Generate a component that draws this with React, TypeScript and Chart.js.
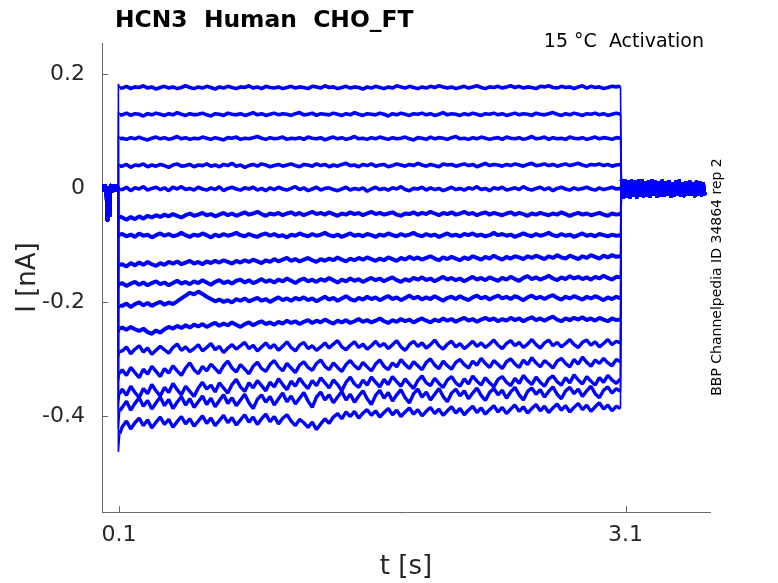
import { useEffect, useRef } from "react";
import { Chart, registerables } from "chart.js";

Chart.register(...registerables);

// ---- data ----
const titleText = "HCN3  Human  CHO_FT";
const conditionText = "15 °C  Activation";
const idText = "BBP Channelpedia ID 34864 rep 2";

const xTicks = [0.1, 3.1];
const yTicks = [-0.4, -0.2, 0, 0.2];

const stepOn = 0.097;
const stepSettle = 0.105;
const stepOff = 3.07;

// holding current before the step (nA), 5 ms apart from t = 0
const preTimes = Array.from({ length: 20 }, (_, k) => +(k * 0.005).toFixed(3));
const preValues = [
  0.005, -0.006, 0.006, -0.005, 0.006, -0.006, -0.056, 0.004, -0.006, -0.05,
  0.005, 0.006, -0.005, 0.006, -0.006, 0.005, -0.006, 0.006, -0.005, 0.004,
];

// capacitive transient at step onset, then first settled sample (nA)
const onsetPeak = [
  0.183, 0.134, 0.092, 0.044, 0.003, -0.05, -0.086, -0.138, -0.174, -0.212,
  -0.254, -0.296, -0.338, -0.378, -0.42, -0.462,
];
const onsetSettle = [
  0.176, 0.129, 0.087, 0.039, -0.002, -0.049, -0.081, -0.134, -0.168, -0.206,
  -0.246, -0.286, -0.324, -0.36, -0.39, -0.43,
];

// samples during the step: 0.12 .. 3.07 s every 25 ms
const stepTimes = Array.from({ length: 119 }, (_, k) => +(0.12 + 0.025 * k).toFixed(3));

// step currents in pA
const trace1 = [
  176, 179, 175, 178, 177, 180, 176, 178, 174, 177,
  179, 176, 178, 175, 177, 180, 177, 175, 178, 176,
  179, 177, 174, 178, 176, 179, 177, 175, 178, 177,
  180, 176, 178, 175, 179, 177, 176, 178, 175, 177,
  179, 176, 178, 177, 175, 179, 178, 176, 180, 177,
  178, 175, 177, 179, 176, 178, 177, 174, 178, 176,
  179, 177, 175, 178, 176, 180, 178, 176, 179, 177,
  175, 178, 176, 179, 177, 180, 178, 176, 178, 175,
  177, 179, 176, 178, 180, 177, 175, 178, 177, 179,
  176, 178, 180, 177, 179, 176, 178, 177, 175, 179,
  178, 180, 177, 176, 179, 177, 178, 175, 178, 180,
  176, 179, 177, 178, 175, 177, 179, 178, 179,
];
const trace2 = [
  129, 132, 128, 131, 130, 127, 131, 129, 132, 130,
  128, 131, 129, 133, 130, 128, 131, 129, 130, 132,
  129, 127, 131, 130, 128, 132, 130, 129, 131, 128,
  130, 133, 129, 131, 128, 130, 132, 129, 131, 130,
  128, 131, 133, 129, 130, 132, 128, 131, 130, 129,
  132, 130, 128, 131, 129, 133, 130, 128, 131, 130,
  129, 132, 130, 127, 131, 129, 132, 130, 128, 131,
  130, 132, 129, 131, 128, 130, 133, 129, 131, 130,
  128, 131, 129, 132, 130, 128, 131, 130, 132, 129,
  131, 128, 130, 132, 129, 131, 130, 128, 132, 130,
  129, 131, 133, 130, 128, 131, 129, 132, 130, 128,
  131, 130, 132, 129, 131, 128, 130, 132, 130,
];
const trace3 = [
  88, 86, 89, 87, 90, 87, 85, 88, 90, 87,
  89, 86, 88, 91, 87, 89, 86, 88, 87, 90,
  88, 86, 89, 87, 85, 89, 88, 90, 86, 88,
  87, 89, 91, 88, 86, 89, 87, 88, 90, 86,
  88, 87, 89, 86, 90, 88, 87, 89, 85, 88,
  90, 87, 89, 86, 88, 91, 87, 88, 86, 89,
  87, 90, 88, 86, 89, 87, 88, 90, 87, 85,
  89, 88, 86, 90, 87, 89, 88, 86, 89, 91,
  87, 88, 86, 89, 87, 90, 88, 86, 88, 89,
  86, 90, 88, 87, 89, 86, 88, 91, 87, 88,
  90, 86, 89, 87, 88, 86, 90, 88, 87, 89,
  86, 88, 90, 87, 89, 88, 86, 89, 88,
];
const trace4 = [
  39, 42, 37, 41, 40, 43, 38, 41, 39, 42,
  40, 37, 41, 43, 39, 40, 42, 38, 41, 40,
  43, 39, 41, 38, 42, 40, 44, 39, 41, 37,
  40, 42, 39, 43, 41, 38, 40, 42, 39, 41,
  43, 40, 38, 42, 41, 39, 43, 40, 42, 38,
  41, 39, 42, 44, 40, 41, 38, 42, 40, 43,
  39, 41, 42, 38, 40, 43, 41, 39, 42, 40,
  44, 41, 39, 42, 40, 38, 43, 41, 42, 39,
  41, 43, 40, 42, 38, 41, 44, 40, 42, 41,
  39, 42, 40, 43, 41, 39, 42, 44, 40, 41,
  43, 40, 42, 39, 41, 43, 40, 42, 44, 41,
  39, 42, 41, 43, 40, 42, 39, 41, 42,
];
const trace5 = [
  -2, 2, -4, 1, -1, 3, -3, 0, 2, -2,
  1, -4, 2, -1, 3, -2, 0, -3, 2, -1,
  -3, 1, -2, 3, -4, 0, 2, -1, -3, 1,
  -1, 2, -3, 0, -4, 1, -2, 2, -1, -3,
  0, 3, -2, 1, -4, -1, 2, -3, 0, 1,
  -2, -4, -1, 2, -3, 0, -2, 1, -5, -1,
  2, -2, 0, -3, 1, -1, 3, -2, -4, 0,
  -1, 2, -3, 1, -2, 0, -4, -1, 2, -2,
  0, -3, 1, -1, 3, -2, 0, -4, 1, -1,
  2, -3, -1, 1, -2, 3, -1, -3, 0, 2,
  -2, 1, -4, 0, 2, -1, -3, 1, -2, 0,
  2, -1, -3, 1, -2, 0, 2, -1, 0,
];
const trace6 = [
  -51, -55, -50, -54, -49, -53, -48, -51, -47, -50,
  -46, -49, -45, -48, -51, -47, -44, -48, -46, -43,
  -47, -45, -49, -46, -43, -47, -44, -48, -45, -42,
  -46, -44, -41, -45, -48, -44, -46, -43, -47, -44,
  -42, -46, -43, -47, -44, -41, -45, -43, -46, -42,
  -45, -48, -44, -46, -42, -45, -43, -47, -44, -41,
  -45, -43, -46, -44, -42, -46, -48, -44, -45, -42,
  -46, -43, -45, -41, -44, -47, -43, -45, -42, -46,
  -44, -41, -45, -43, -47, -44, -42, -46, -43, -45,
  -47, -44, -42, -46, -43, -45, -48, -44, -46, -43,
  -45, -47, -44, -46, -42, -45, -48, -45, -43, -46,
  -44, -47, -45, -43, -46, -48, -44, -46, -45,
];
const trace7 = [
  -80, -84, -81, -85, -79, -83, -81, -86, -82, -79,
  -83, -80, -84, -82, -78, -82, -85, -81, -83, -79,
  -82, -86, -81, -84, -80, -83, -81, -78, -82, -84,
  -80, -83, -85, -81, -79, -83, -80, -84, -82, -86,
  -81, -83, -79, -82, -84, -80, -83, -81, -78, -82,
  -84, -81, -85, -82, -79, -83, -81, -84, -80, -82,
  -85, -81, -83, -79, -82, -84, -80, -83, -81, -78,
  -82, -84, -80, -83, -81, -85, -82, -79, -83, -81,
  -84, -80, -82, -79, -83, -81, -84, -82, -78, -82,
  -80, -83, -81, -85, -82, -79, -82, -84, -80, -83,
  -81, -78, -82, -84, -80, -83, -81, -85, -82, -79,
  -83, -81, -84, -80, -82, -84, -81, -83, -82,
];
const trace8 = [
  -133, -137, -131, -135, -130, -134, -129, -133, -136, -131,
  -134, -129, -132, -128, -133, -130, -127, -132, -129, -133,
  -128, -131, -127, -130, -126, -129, -132, -127, -130, -126,
  -129, -125, -128, -131, -126, -129, -124, -128, -125, -122,
  -127, -124, -128, -125, -122, -126, -129, -124, -127, -123,
  -126, -121, -125, -128, -123, -126, -122, -125, -121, -124,
  -127, -123, -126, -121, -124, -127, -122, -125, -120, -124,
  -121, -125, -122, -119, -123, -126, -121, -124, -120, -123,
  -126, -121, -124, -119, -122, -125, -120, -123, -118, -122,
  -125, -120, -123, -119, -121, -124, -119, -122, -118, -121,
  -124, -119, -122, -117, -121, -123, -118, -121, -124, -119,
  -122, -117, -120, -123, -118, -121, -117, -120, -119,
];
const trace9 = [
  -166, -171, -167, -164, -169, -165, -170, -166, -163, -168,
  -165, -170, -166, -162, -167, -164, -168, -163, -166, -161,
  -165, -169, -164, -161, -166, -163, -167, -162, -160, -165,
  -161, -166, -163, -159, -164, -161, -165, -160, -163, -158,
  -162, -166, -161, -158, -163, -160, -164, -159, -162, -157,
  -161, -165, -160, -163, -158, -162, -159, -164, -160, -157,
  -161, -158, -163, -159, -156, -161, -164, -159, -162, -157,
  -160, -156, -161, -158, -163, -159, -155, -160, -157, -161,
  -158, -163, -159, -155, -160, -157, -161, -156, -159, -162,
  -157, -160, -155, -159, -162, -157, -154, -159, -156, -160,
  -157, -153, -158, -161, -156, -159, -154, -158, -155, -159,
  -156, -160, -155, -158, -153, -157, -160, -155, -156,
];
const trace10 = [
  -206, -202, -208, -203, -200, -205, -201, -206, -202, -199,
  -204, -200, -203, -198, -193, -188, -183, -186, -181, -185,
  -190, -194, -198, -195, -199, -196, -200, -194, -197, -193,
  -198, -195, -192, -197, -194, -199, -195, -191, -196, -193,
  -197, -192, -195, -191, -196, -193, -198, -194, -190, -195,
  -192, -197, -193, -189, -194, -197, -192, -195, -190, -194,
  -191, -196, -192, -189, -194, -191, -196, -192, -188, -193,
  -190, -195, -191, -194, -189, -193, -197, -192, -190, -194,
  -189, -193, -196, -191, -188, -193, -190, -195, -191, -188,
  -193, -190, -194, -189, -192, -196, -191, -188, -193, -190,
  -194, -190, -187, -192, -195, -190, -193, -189, -192, -195,
  -190, -193, -189, -192, -196, -191, -194, -190, -193,
];
const trace11 = [
  -244, -248, -243, -247, -250, -246, -252, -255, -249, -253,
  -247, -243, -246, -241, -245, -240, -244, -239, -242, -238,
  -243, -239, -236, -241, -237, -240, -235, -239, -243, -238,
  -235, -240, -236, -233, -238, -235, -239, -234, -237, -232,
  -236, -233, -238, -234, -231, -236, -232, -235, -230, -234,
  -237, -232, -235, -231, -236, -233, -229, -234, -231, -235,
  -232, -228, -233, -236, -231, -234, -229, -233, -230, -235,
  -231, -228, -232, -235, -230, -233, -228, -232, -229, -234,
  -230, -227, -232, -229, -234, -230, -227, -231, -228, -233,
  -229, -232, -227, -231, -228, -233, -229, -226, -231, -228,
  -232, -228, -225, -230, -233, -228, -231, -227, -230, -226,
  -231, -228, -232, -227, -230, -233, -228, -231, -230,
];
const trace12 = [
  -285, -278, -290, -282, -276, -287, -280, -291, -284, -277,
  -283, -289, -279, -273, -284, -278, -286, -281, -274, -285,
  -279, -272, -283, -277, -288, -280, -274, -282, -276, -270,
  -281, -275, -285, -278, -271, -280, -274, -284, -277, -269,
  -279, -285, -275, -270, -281, -276, -284, -278, -271, -280,
  -273, -267, -278, -283, -275, -269, -279, -273, -282, -276,
  -268, -277, -272, -281, -274, -267, -278, -284, -274, -268,
  -277, -271, -280, -274, -266, -276, -282, -273, -268, -278,
  -272, -281, -275, -268, -277, -271, -279, -273, -266, -275,
  -281, -272, -267, -276, -270, -279, -273, -265, -274, -280,
  -271, -266, -276, -270, -278, -272, -265, -274, -279, -270,
  -266, -275, -269, -278, -272, -265, -274, -268, -271,
];
const trace13 = [
  -318, -328, -314, -323, -332, -317, -326, -312, -321, -330,
  -316, -324, -311, -320, -328, -315, -306, -318, -325, -312,
  -320, -308, -316, -324, -311, -303, -315, -322, -309, -317,
  -325, -312, -305, -316, -321, -309, -302, -313, -320, -307,
  -315, -323, -310, -304, -314, -319, -307, -301, -312, -318,
  -306, -314, -321, -309, -302, -311, -317, -305, -313, -320,
  -308, -301, -312, -318, -306, -313, -300, -309, -316, -304,
  -311, -318, -305, -299, -310, -316, -303, -311, -317, -305,
  -300, -309, -315, -303, -310, -298, -307, -314, -302, -309,
  -316, -304, -299, -308, -314, -301, -309, -297, -306, -313,
  -302, -308, -315, -303, -298, -307, -313, -300, -308, -296,
  -305, -312, -301, -307, -298, -306, -311, -300, -304,
];
const trace14 = [
  -352, -363, -347, -358, -367, -351, -360, -344, -355, -364,
  -349, -358, -342, -353, -362, -347, -356, -365, -350, -340,
  -352, -345, -357, -341, -350, -359, -344, -335, -348, -356,
  -341, -350, -337, -346, -355, -340, -348, -334, -344, -353,
  -338, -347, -333, -343, -351, -337, -346, -332, -341, -350,
  -336, -344, -355, -340, -331, -343, -349, -336, -345, -331,
  -340, -348, -335, -344, -330, -339, -347, -334, -343, -351,
  -337, -329, -341, -346, -333, -342, -349, -336, -330, -341,
  -347, -334, -343, -329, -338, -345, -332, -341, -348, -335,
  -330, -340, -346, -333, -342, -328, -337, -344, -331, -340,
  -347, -334, -329, -339, -345, -332, -341, -327, -336, -343,
  -330, -338, -345, -332, -340, -328, -336, -342, -334,
];
const trace15 = [
  -384, -373, -389, -377, -367, -382, -372, -387, -376, -366,
  -381, -370, -386, -375, -365, -380, -369, -384, -374, -364,
  -379, -368, -383, -372, -362, -377, -367, -381, -371, -361,
  -376, -386, -370, -362, -375, -365, -380, -369, -359, -374,
  -364, -378, -368, -358, -373, -384, -366, -357, -371, -362,
  -376, -366, -356, -371, -361, -375, -364, -355, -369, -379,
  -363, -354, -368, -358, -373, -362, -353, -367, -376, -360,
  -352, -366, -357, -371, -361, -351, -365, -374, -359, -352,
  -364, -355, -369, -359, -350, -363, -372, -358, -351, -362,
  -354, -368, -357, -349, -362, -371, -356, -350, -361, -353,
  -366, -356, -348, -361, -369, -355, -349, -360, -352, -365,
  -355, -347, -360, -367, -354, -348, -359, -351, -356,
];
const trace16 = [
  -418, -408, -422, -411, -403, -416, -406, -420, -410, -401,
  -414, -405, -419, -409, -400, -413, -404, -417, -408, -399,
  -412, -403, -416, -407, -398, -411, -402, -415, -406, -397,
  -410, -401, -414, -404, -396, -409, -400, -413, -403, -397,
  -408, -416, -405, -411, -419, -410, -423, -413, -404, -412,
  -401, -395, -404, -392, -400, -391, -403, -394, -388, -398,
  -390, -401, -393, -386, -397, -389, -400, -392, -385, -396,
  -388, -399, -391, -384, -395, -387, -398, -390, -383, -394,
  -386, -397, -389, -382, -393, -385, -396, -388, -381, -392,
  -384, -395, -387, -380, -391, -383, -394, -386, -379, -390,
  -382, -393, -385, -378, -389, -381, -392, -384, -377, -388,
  -380, -391, -383, -376, -387, -380, -390, -382, -386,
];
const stepTraces = [
  trace1, trace2, trace3, trace4, trace5, trace6, trace7, trace8,
  trace9, trace10, trace11, trace12, trace13, trace14, trace15, trace16,
];

// tail current after the step (nA), up to ~3.57 s
const tailTimes = Array.from({ length: 50 }, (_, k) => +(stepOff + 0.005 + (k * 0.495) / 49).toFixed(4));
const tailValues = [
  0.015, -0.018, 0.016, -0.016, 0.014, -0.018, 0.015, -0.015, 0.013, -0.017,
  0.015, -0.014, 0.016, -0.016, 0.012, -0.015, 0.014, -0.016, 0.015, -0.013,
  0.013, -0.016, 0.012, -0.014, 0.015, -0.015, 0.012, -0.013, 0.014, -0.016,
  0.011, -0.014, 0.013, -0.012, 0.015, -0.014, 0.011, -0.015, 0.012, -0.013,
  0.014, -0.012, 0.011, -0.015, 0.013, -0.013, 0.012, -0.014, 0.011, -0.012,
];

const traceColor = "#0000ff";
const axisColor = "#666666";
const textColor = "#262626";
const fontFamily = "'DejaVu Sans', sans-serif";

const inwardTicks = {
  id: "inwardTicks",
  beforeDatasetsDraw(chart: Chart) {
    const { ctx, chartArea, scales } = chart;
    ctx.save();
    ctx.strokeStyle = axisColor;
    ctx.lineWidth = 1;
    ctx.beginPath();
    for (const v of xTicks) {
      const px = Math.round(scales.x.getPixelForValue(v)) + 0.5;
      ctx.moveTo(px, chartArea.bottom);
      ctx.lineTo(px, chartArea.bottom - 6);
    }
    for (const v of yTicks) {
      const py = Math.round(scales.y.getPixelForValue(v)) + 0.5;
      ctx.moveTo(chartArea.left, py);
      ctx.lineTo(chartArea.left + 6, py);
    }
    ctx.stroke();
    ctx.restore();
  },
};

const labels = {
  id: "labels",
  afterDraw(chart: Chart) {
    const ctx = chart.ctx;
    ctx.save();
    ctx.fillStyle = "#000000";
    ctx.textBaseline = "alphabetic";
    ctx.font = `bold 23.4px ${fontFamily}`;
    ctx.textAlign = "left";
    ctx.fillText(titleText, 115, 27);
    ctx.font = `19px ${fontFamily}`;
    ctx.textAlign = "right";
    ctx.fillText(conditionText, 704, 47);
    ctx.translate(721, 277);
    ctx.rotate(-Math.PI / 2);
    ctx.font = `14px ${fontFamily}`;
    ctx.textAlign = "center";
    ctx.fillText(idText, 0, 0);
    ctx.restore();
  },
};

// line width per segment: thin jumps at step onset/offset, heavier holding/tail noise
const segmentWidth = (x0: number, x1: number) => {
  if ((x0 >= stepOn - 0.003 && x1 <= stepSettle) || (x0 >= stepOff - 0.001 && x1 <= stepOff + 0.006)) return 1.6;
  if (x1 < stepOn - 0.001 || x0 > stepOff + 0.004) return 3;
  return undefined;
};

export default function App() {
  const canvasRef = useRef<HTMLCanvasElement>(null);
  const chartRef = useRef<Chart | null>(null);

  useEffect(() => {
    document.body.style.margin = "0";
    if (!canvasRef.current) return;

    if (chartRef.current) chartRef.current.destroy();

    const datasets = stepTraces.map((values, i) => ({
      label: `trace ${i + 1}`,
      data: [
        ...preTimes.map((t, k) => ({ x: t, y: preValues[k] })),
        { x: stepOn, y: onsetPeak[i] },
        { x: stepSettle, y: onsetSettle[i] },
        ...stepTimes.map((t, k) => ({ x: t, y: values[k] / 1000 })),
        ...tailTimes.map((t, k) => ({ x: t, y: tailValues[k] })),
      ],
      borderColor: traceColor,
      borderWidth: i < 5 ? 3.6 : i < 11 ? 4 : 3.4,
      borderJoinStyle: "bevel" as const,
      pointRadius: 0,
      tension: 0,
      fill: false,
      segment: {
        borderWidth: (c: any) => segmentWidth(c.p0.parsed.x, c.p1.parsed.x),
      },
    }));

    chartRef.current = new Chart(canvasRef.current, {
      type: "line",
      data: { datasets },
      options: {
        animation: false,
        responsive: false,
        devicePixelRatio: 1,
        layout: { padding: { left: 0, top: 43, right: 68, bottom: 0 } },
        plugins: {
          legend: { display: false },
          tooltip: { enabled: false },
          title: { display: false },
        },
        scales: {
          x: {
            type: "linear",
            min: 0,
            max: 3.6,
            afterBuildTicks: (scale: any) => {
              scale.ticks = xTicks.map((v) => ({ value: v }));
            },
            afterFit: (scale: any) => {
              scale.height = 71;
            },
            grid: { display: false, drawTicks: false },
            border: { display: true, color: axisColor, width: 1 },
            ticks: {
              autoSkip: false,
              maxRotation: 0,
              padding: 10,
              color: textColor,
              font: { family: fontFamily, size: 22 },
              callback: (v: any) => String(v),
            },
            title: {
              display: true,
              text: "t [s]",
              color: textColor,
              font: { family: fontFamily, size: 26 },
              padding: { top: 0, bottom: 0 },
            },
          },
          y: {
            type: "linear",
            min: -0.5675,
            max: 0.255,
            afterBuildTicks: (scale: any) => {
              scale.ticks = yTicks.map((v) => ({ value: v }));
            },
            afterFit: (scale: any) => {
              scale.width = 102;
            },
            grid: { display: false, drawTicks: false },
            border: { display: true, color: axisColor, width: 1 },
            ticks: {
              autoSkip: false,
              padding: 17,
              color: textColor,
              font: { family: fontFamily, size: 22 },
              callback: (v: any) => String(v),
            },
            title: {
              display: true,
              text: "I [nA]",
              color: textColor,
              font: { family: fontFamily, size: 26 },
              padding: { top: 13, bottom: 0 },
            },
          },
        },
      },
      plugins: [inwardTicks, labels],
    });

    return () => {
      if (chartRef.current) {
        chartRef.current.destroy();
        chartRef.current = null;
      }
    };
  }, []);

  return (
    <div style={{ width: 778, height: 583, background: "#ffffff" }}>
      <canvas ref={canvasRef} width={778} height={583} style={{ display: "block" }} />
    </div>
  );
}
